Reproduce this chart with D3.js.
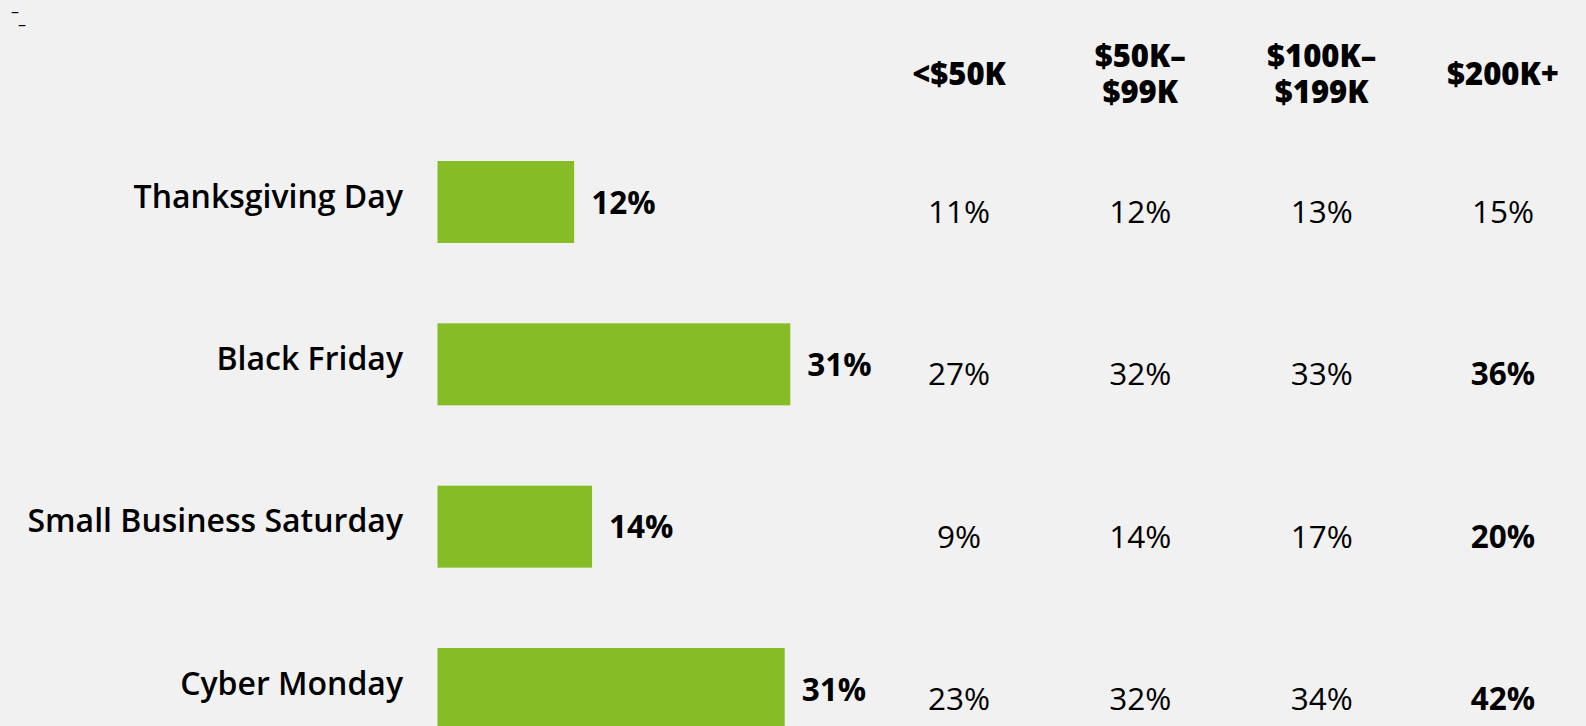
<!DOCTYPE html>
<html><head><meta charset="utf-8">
<script src="https://cdn.jsdelivr.net/npm/d3@7"></script>
<style>
html,body{margin:0;padding:0;background:#f1f1f1;}
svg{display:block;font-family:"Open Sans",sans-serif;}
</style></head>
<body>
<svg id="chart" width="1586" height="726"></svg>
<script>
const days = ["Thanksgiving Day", "Black Friday", "Small Business Saturday", "Cyber Monday"];
const overall = [12.2, 31.5, 13.8, 31.0];
const overallLabels = ["12%", "31%", "14%", "31%"];
const incomeGroups = [["<$50K"], ["$50K–", "$99K"], ["$100K–", "$199K"], ["$200K+"]];
const lt50 = [11, 27, 9, 23];
const k50_99 = [12, 32, 14, 32];
const k100_199 = [13, 33, 17, 34];
const k200p = [15, 36, 20, 42];
const boldCells = [[3,1],[3,2],[3,3]]; // [column, row]

const svg = d3.select("#chart");
svg.append("rect").attr("width",1586).attr("height",726).attr("fill","#f1f1f1");

// stray marks top-left
svg.append("text").attr("x",11).attr("y",17).attr("font-size",16).text("–");
svg.append("text").attr("x",18).attr("y",30).attr("font-size",16).text("–");

const x = d3.scaleLinear().domain([0,100]).range([437.5,1557.5]);
const y = d3.scalePoint().domain(days).range([202,689]);
const barH = 82;
const col = d3.scalePoint().domain(d3.range(4)).range([959,1503]);

// row labels
svg.selectAll("text.day").data(days).join("text")
  .attr("class","day")
  .attr("x",403).attr("y",d=>y(d)-7)
  .attr("text-anchor","end").attr("dominant-baseline","central")
  .attr("font-size",32).attr("font-weight",600).attr("fill","#000")
  .text(d=>d);

// bars
svg.selectAll("rect.bar").data(days).join("rect")
  .attr("class","bar")
  .attr("x",x(0)).attr("y",d=>y(d)-barH/2)
  .attr("width",(d,i)=>x(overall[i])-x(0)).attr("height",barH)
  .attr("fill","#86bc25");

// bar value labels
svg.selectAll("text.val").data(days).join("text")
  .attr("class","val")
  .attr("x",(d,i)=>x(overall[i])+17).attr("y",d=>y(d)-1)
  .attr("dominant-baseline","central")
  .attr("font-size",31.5).attr("font-weight",700).attr("fill","#000")
  .text((d,i)=>overallLabels[i]);

// headers
const hdr = svg.selectAll("g.hdr").data(incomeGroups).join("g")
  .attr("class","hdr")
  .attr("transform",(d,i)=>`translate(${col(i)},73)`);
hdr.each(function(lines){
  const g = d3.select(this);
  lines.forEach((t,j)=>{
    g.append("text")
      .attr("x",0).attr("y",(j-(lines.length-1)/2)*35.5)
      .attr("text-anchor","middle").attr("dominant-baseline","central")
      .attr("font-size",31).attr("font-weight",800).attr("fill","#000")
      .text(t);
  });
});

// table values
const table = [lt50,k50_99,k100_199,k200p];
table.forEach((vals,ci)=>{
  svg.selectAll(`text.c${ci}`).data(vals).join("text")
    .attr("class",`c${ci}`)
    .attr("x",col(ci)).attr("y",(v,ri)=>y(days[ri])+8.5)
    .attr("text-anchor","middle").attr("dominant-baseline","central")
    .attr("font-size",31.5)
    .attr("font-weight",(v,ri)=>boldCells.some(b=>b[0]===ci&&b[1]===ri)?700:400)
    .attr("fill","#000")
    .text(v=>v+"%");
});
</script>
</body></html>
